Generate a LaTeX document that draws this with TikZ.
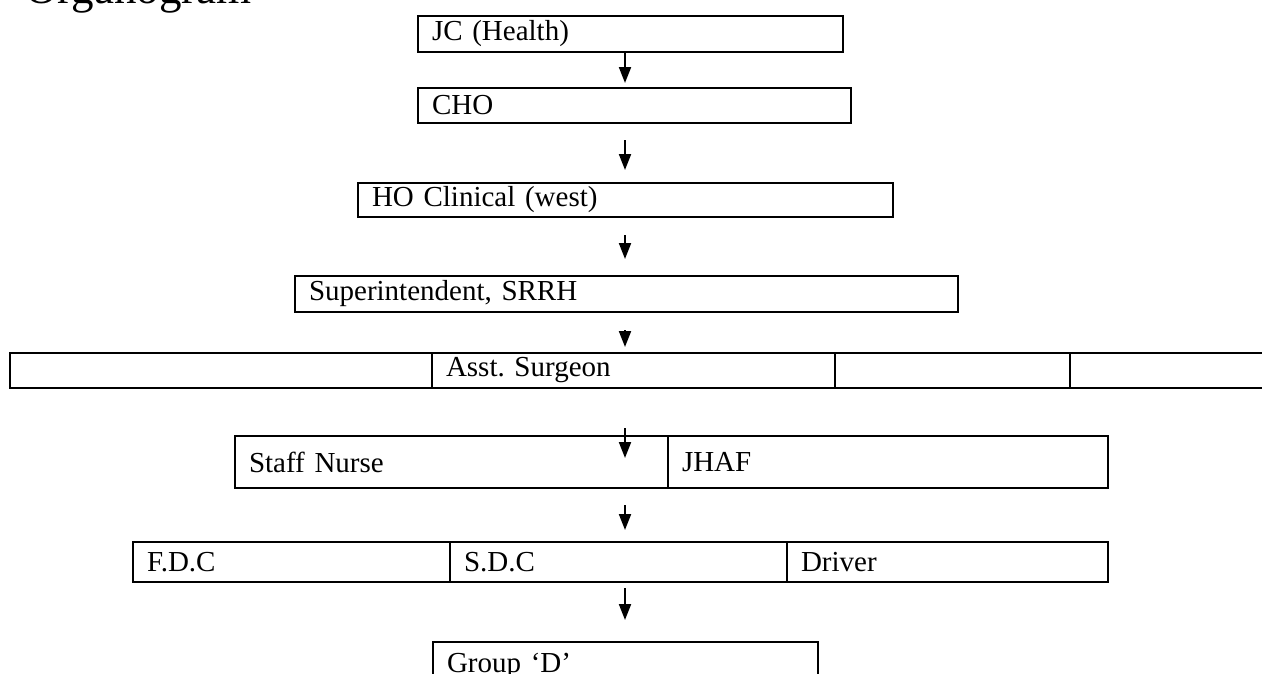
\documentclass[tikz,border=0pt]{standalone}
\usepackage{fontspec}
\setmainfont{Liberation Serif}
\usepackage{tikz}
\usetikzlibrary{positioning}
\usetikzlibrary{arrows.meta}

\tikzset{
  box/.style={draw, line width=2pt, outer sep=0pt, inner xsep=14pt, inner ysep=0pt,
    align=left, font=\fontsize{29}{34}\selectfont},
  wide/.style={box, line width=2.6pt, minimum height=35pt},
  flow/.style={-{Triangle[width=12pt,length=16pt]}, line width=2pt},
}

\begin{document}
\begin{tikzpicture}[x=1pt,y=-1pt]
\useasboundingbox (0,0) rectangle (1262,673);
\node[anchor=base west, inner sep=0pt, font=\fontsize{45}{50}\selectfont] (title) at (25,3) {Organogram};

% chain of single boxes
\node[box, anchor=north west, minimum height=36pt, text width=397pt] (jc) at (418,16) {JC (Health)};
\node[box, anchor=north west, minimum height=35pt, text width=405pt] (cho) at (418,88) {CHO};
\node[box, anchor=north west, minimum height=34pt, text width=507pt] (ho) at (358,183) {HO Clinical (west)};
\node[box, anchor=north west, minimum height=36pt, text width=635pt] (supt) at (295,276) {Superintendent, SRRH};

% row of assistant surgeons
\node[wide, anchor=north west, text width=394pt] (as1) at (10,353) {};
\node[wide, right=0pt of as1, text width=375pt] (asst) {Asst.\ Surgeon};
\node[wide, right=0pt of asst, text width=207pt] (as3) {};
\node[wide, right=0pt of as3, text width=202pt] (as4) {};

% nurse row
\node[box, anchor=north west, minimum height=52pt, text width=405pt] (nurse) at (235,436) {Staff Nurse};
\node[box, right=0pt of nurse, minimum height=52pt, text width=412pt] (jhaf) {JHAF};

% clerk row
\node[box, anchor=north west, minimum height=40pt, text width=289pt] (fdc) at (133,542) {F.D.C};
\node[box, right=0pt of fdc, minimum height=40pt, text width=309pt] (sdc) {S.D.C};
\node[box, right=0pt of sdc, minimum height=40pt, text width=293pt] (drv) {Driver};

\node[box, anchor=north west, minimum height=48pt, text width=357pt] (grpd) at (433,642) {Group `D'};

% arrows down the middle
\coordinate (spine) at (625,0);
\draw[flow, shorten >=5pt] (jc.south -| spine) -- (cho.north -| spine);
\draw[flow, shorten <=17pt, shorten >=13pt] (cho.south -| spine) -- (ho.north -| spine);
\draw[flow, shorten <=18pt, shorten >=17pt] (ho.south -| spine) -- (supt.north -| spine);
\draw[flow, shorten <=18pt, shorten >=6pt] (supt.south -| spine) -- (asst.north -| spine);
\draw[flow, shorten <=40pt, shorten >=-22pt] (asst.south -| spine) -- (nurse.north -| spine);
\draw[flow, shorten <=17pt, shorten >=12pt] (nurse.south -| spine) -- (sdc.north -| spine);
\draw[flow, shorten <=6pt, shorten >=22pt] (sdc.south -| spine) -- (grpd.north -| spine);
\end{tikzpicture}
\end{document}
